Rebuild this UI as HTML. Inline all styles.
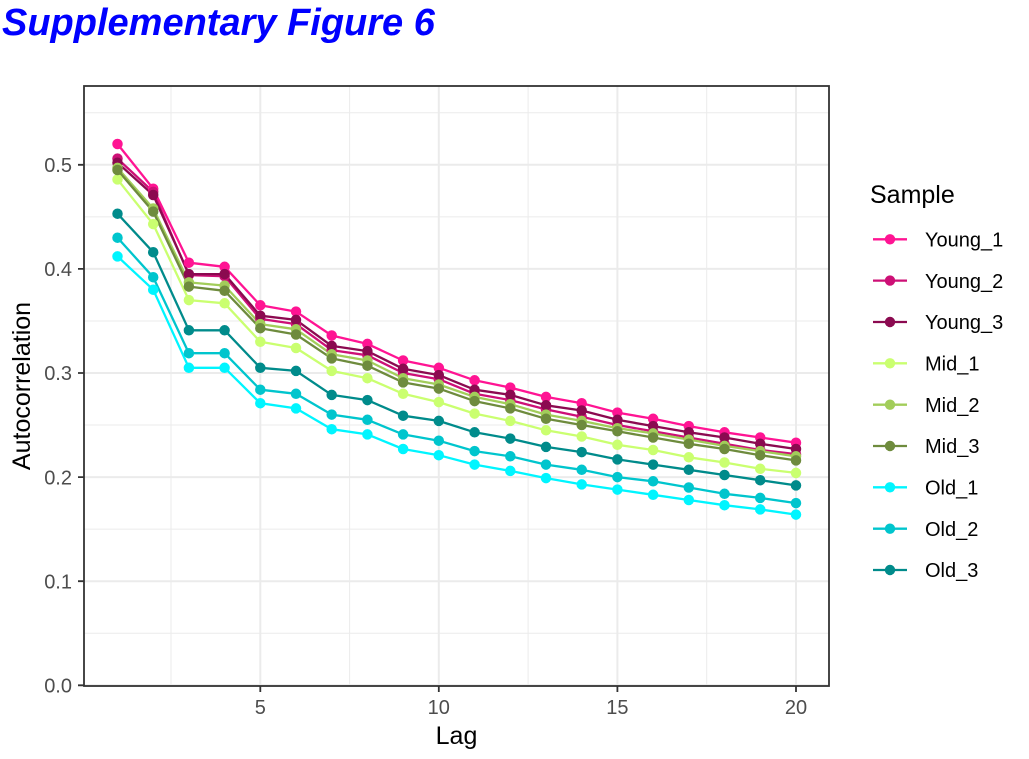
<!DOCTYPE html>
<html><head><meta charset="utf-8"><style>
html,body{margin:0;padding:0;background:#fff;}
svg{display:block;}
text{font-family:"Liberation Sans",Arial,sans-serif;}
</style></head><body>
<svg width="1029" height="759" viewBox="0 0 1029 759" xmlns="http://www.w3.org/2000/svg">
<rect width="1029" height="759" fill="#fff"/>
<text x="2" y="35" font-size="38" font-weight="bold" font-style="italic" fill="#0000FF">Supplementary Figure 6</text>
<!-- panel -->
<rect x="84" y="86" width="745" height="600" fill="#fff"/>
<g stroke="#EBEBEB" stroke-width="1" fill="none">
<path d="M84 633.25H829M84 529.15H829M84 425.05H829M84 320.95H829M84 216.85H829M84 112.75H829"/>
<path d="M171 86V686M349.6 86V686M528.1 86V686M706.7 86V686"/>
</g>
<g stroke="#EBEBEB" stroke-width="2" fill="none">
<path d="M84 685.3H829M84 581.2H829M84 477.1H829M84 373H829M84 268.9H829M84 164.8H829"/>
<path d="M260.3 86V686M438.8 86V686M617.4 86V686M796 86V686"/>
</g>
<g fill="none" stroke-width="2.3" stroke-linejoin="round">
<polyline stroke="#FF1493" points="117.5,144 153.2,188.7 188.9,262.7 224.6,266.8 260.3,305.3 296,311.6 331.7,335.5 367.4,343.9 403.1,360.5 438.8,367.8 474.6,380.3 510.3,387.6 546,396.9 581.7,403.2 617.4,412.6 653.1,418.8 688.8,426.1 724.5,432.3 760.2,437.5 796,442.7"/>
<polyline stroke="#CD1076" points="117.5,158.6 153.2,191.9 188.9,275.1 224.6,276.2 260.3,318.9 296,324.1 331.7,350.1 367.4,355.3 403.1,373 438.8,379.2 474.6,393.8 510.3,400.1 546,409.4 581.7,416.7 617.4,425 653.1,431.3 688.8,437.5 724.5,443.8 760.2,450 796,454.2"/>
<polyline stroke="#8B0A50" points="117.5,162.7 153.2,195 188.9,274.1 224.6,274.1 260.3,315.7 296,319.9 331.7,345.9 367.4,351.1 403.1,368.8 438.8,375.1 474.6,389.7 510.3,394.9 546,405.3 581.7,410.5 617.4,419.8 653.1,426.1 688.8,432.3 724.5,437.5 760.2,443.8 796,449"/>
<polyline stroke="#CAFF70" points="117.5,179.4 153.2,224.1 188.9,300.1 224.6,303.3 260.3,341.8 296,348 331.7,370.9 367.4,378.2 403.1,393.8 438.8,402.1 474.6,413.6 510.3,420.9 546,430.3 581.7,436.5 617.4,444.8 653.1,450 688.8,457.3 724.5,462.5 760.2,468.8 796,472.9"/>
<polyline stroke="#A2CD5A" points="117.5,167.9 153.2,208.5 188.9,282.4 224.6,285.6 260.3,324.1 296,329.3 331.7,354.3 367.4,360.5 403.1,378.2 438.8,384.5 474.6,396.9 510.3,404.2 546,414.6 581.7,420.9 617.4,428.2 653.1,433.4 688.8,439.6 724.5,445.9 760.2,451.1 796,456.3"/>
<polyline stroke="#6E8B3D" points="117.5,170 153.2,211.6 188.9,286.6 224.6,290.8 260.3,328.2 296,334.5 331.7,358.4 367.4,365.7 403.1,382.4 438.8,388.6 474.6,401.1 510.3,408.4 546,418.8 581.7,425 617.4,431.3 653.1,437.5 688.8,443.8 724.5,449 760.2,455.2 796,460.4"/>
<polyline stroke="#00F5FF" points="117.5,256.4 153.2,289.7 188.9,367.8 224.6,367.8 260.3,403.2 296,408.4 331.7,429.2 367.4,434.4 403.1,449 438.8,455.2 474.6,464.6 510.3,470.9 546,478.1 581.7,484.4 617.4,489.6 653.1,494.8 688.8,500 724.5,505.2 760.2,509.4 796,514.6"/>
<polyline stroke="#00C5CD" points="117.5,237.7 153.2,277.2 188.9,353.2 224.6,353.2 260.3,389.7 296,393.8 331.7,414.6 367.4,419.8 403.1,434.4 438.8,440.7 474.6,451.1 510.3,456.3 546,464.6 581.7,469.8 617.4,477.1 653.1,481.3 688.8,487.5 724.5,493.8 760.2,497.9 796,503.1"/>
<polyline stroke="#008B8B" points="117.5,213.7 153.2,252.2 188.9,330.3 224.6,330.3 260.3,367.8 296,370.9 331.7,394.9 367.4,400.1 403.1,415.7 438.8,420.9 474.6,432.3 510.3,438.6 546,446.9 581.7,452.1 617.4,459.4 653.1,464.6 688.8,469.8 724.5,475 760.2,480.2 796,485.4"/>
</g>
<g fill="none" stroke-width="10.5" stroke-linecap="round">
<path stroke="#FF1493" d="M117.5 144h0M153.2 188.7h0M188.9 262.7h0M224.6 266.8h0M260.3 305.3h0M296 311.6h0M331.7 335.5h0M367.4 343.9h0M403.1 360.5h0M438.8 367.8h0M474.6 380.3h0M510.3 387.6h0M546 396.9h0M581.7 403.2h0M617.4 412.6h0M653.1 418.8h0M688.8 426.1h0M724.5 432.3h0M760.2 437.5h0M796 442.7h0"/>
<path stroke="#CD1076" d="M117.5 158.6h0M153.2 191.9h0M188.9 275.1h0M224.6 276.2h0M260.3 318.9h0M296 324.1h0M331.7 350.1h0M367.4 355.3h0M403.1 373h0M438.8 379.2h0M474.6 393.8h0M510.3 400.1h0M546 409.4h0M581.7 416.7h0M617.4 425h0M653.1 431.3h0M688.8 437.5h0M724.5 443.8h0M760.2 450h0M796 454.2h0"/>
<path stroke="#8B0A50" d="M117.5 162.7h0M153.2 195h0M188.9 274.1h0M224.6 274.1h0M260.3 315.7h0M296 319.9h0M331.7 345.9h0M367.4 351.1h0M403.1 368.8h0M438.8 375.1h0M474.6 389.7h0M510.3 394.9h0M546 405.3h0M581.7 410.5h0M617.4 419.8h0M653.1 426.1h0M688.8 432.3h0M724.5 437.5h0M760.2 443.8h0M796 449h0"/>
<path stroke="#CAFF70" d="M117.5 179.4h0M153.2 224.1h0M188.9 300.1h0M224.6 303.3h0M260.3 341.8h0M296 348h0M331.7 370.9h0M367.4 378.2h0M403.1 393.8h0M438.8 402.1h0M474.6 413.6h0M510.3 420.9h0M546 430.3h0M581.7 436.5h0M617.4 444.8h0M653.1 450h0M688.8 457.3h0M724.5 462.5h0M760.2 468.8h0M796 472.9h0"/>
<path stroke="#A2CD5A" d="M117.5 167.9h0M153.2 208.5h0M188.9 282.4h0M224.6 285.6h0M260.3 324.1h0M296 329.3h0M331.7 354.3h0M367.4 360.5h0M403.1 378.2h0M438.8 384.5h0M474.6 396.9h0M510.3 404.2h0M546 414.6h0M581.7 420.9h0M617.4 428.2h0M653.1 433.4h0M688.8 439.6h0M724.5 445.9h0M760.2 451.1h0M796 456.3h0"/>
<path stroke="#6E8B3D" d="M117.5 170h0M153.2 211.6h0M188.9 286.6h0M224.6 290.8h0M260.3 328.2h0M296 334.5h0M331.7 358.4h0M367.4 365.7h0M403.1 382.4h0M438.8 388.6h0M474.6 401.1h0M510.3 408.4h0M546 418.8h0M581.7 425h0M617.4 431.3h0M653.1 437.5h0M688.8 443.8h0M724.5 449h0M760.2 455.2h0M796 460.4h0"/>
<path stroke="#00F5FF" d="M117.5 256.4h0M153.2 289.7h0M188.9 367.8h0M224.6 367.8h0M260.3 403.2h0M296 408.4h0M331.7 429.2h0M367.4 434.4h0M403.1 449h0M438.8 455.2h0M474.6 464.6h0M510.3 470.9h0M546 478.1h0M581.7 484.4h0M617.4 489.6h0M653.1 494.8h0M688.8 500h0M724.5 505.2h0M760.2 509.4h0M796 514.6h0"/>
<path stroke="#00C5CD" d="M117.5 237.7h0M153.2 277.2h0M188.9 353.2h0M224.6 353.2h0M260.3 389.7h0M296 393.8h0M331.7 414.6h0M367.4 419.8h0M403.1 434.4h0M438.8 440.7h0M474.6 451.1h0M510.3 456.3h0M546 464.6h0M581.7 469.8h0M617.4 477.1h0M653.1 481.3h0M688.8 487.5h0M724.5 493.8h0M760.2 497.9h0M796 503.1h0"/>
<path stroke="#008B8B" d="M117.5 213.7h0M153.2 252.2h0M188.9 330.3h0M224.6 330.3h0M260.3 367.8h0M296 370.9h0M331.7 394.9h0M367.4 400.1h0M403.1 415.7h0M438.8 420.9h0M474.6 432.3h0M510.3 438.6h0M546 446.9h0M581.7 452.1h0M617.4 459.4h0M653.1 464.6h0M688.8 469.8h0M724.5 475h0M760.2 480.2h0M796 485.4h0"/>
</g>
<rect x="84" y="86" width="745" height="600" fill="none" stroke="#333333" stroke-width="1.8"/>
<!-- ticks -->
<g stroke="#333333" stroke-width="1.8">
<path d="M78 685.3H84M78 581.2H84M78 477.1H84M78 373H84M78 268.9H84M78 164.8H84"/>
<path d="M260.3 686V692M438.8 686V692M617.4 686V692M796 686V692"/>
</g>
<g font-size="20" fill="#4D4D4D" text-anchor="end">
<text x="72" y="692.5">0.0</text>
<text x="72" y="588.4">0.1</text>
<text x="72" y="484.3">0.2</text>
<text x="72" y="380.2">0.3</text>
<text x="72" y="276.1">0.4</text>
<text x="72" y="172">0.5</text>
</g>
<g font-size="20" fill="#4D4D4D" text-anchor="middle">
<text x="260.3" y="714">5</text>
<text x="438.8" y="714">10</text>
<text x="617.4" y="714">15</text>
<text x="796" y="714">20</text>
</g>
<text x="456.5" y="744" font-size="25" text-anchor="middle" fill="#000">Lag</text>
<text transform="translate(30,386) rotate(-90)" font-size="25" text-anchor="middle" fill="#000">Autocorrelation</text>
<!-- legend -->
<text x="870" y="203" font-size="25" fill="#000">Sample</text>
<g stroke-width="2.3">
<path stroke="#FF1493" d="M873 239.3H907"/>
<path stroke="#CD1076" d="M873 280.6H907"/>
<path stroke="#8B0A50" d="M873 322H907"/>
<path stroke="#CAFF70" d="M873 363.3H907"/>
<path stroke="#A2CD5A" d="M873 404.7H907"/>
<path stroke="#6E8B3D" d="M873 446H907"/>
<path stroke="#00F5FF" d="M873 487.3H907"/>
<path stroke="#00C5CD" d="M873 528.7H907"/>
<path stroke="#008B8B" d="M873 570H907"/>
</g>
<g>
<circle cx="890" cy="239.3" r="5.2" fill="#FF1493"/>
<circle cx="890" cy="280.6" r="5.2" fill="#CD1076"/>
<circle cx="890" cy="322" r="5.2" fill="#8B0A50"/>
<circle cx="890" cy="363.3" r="5.2" fill="#CAFF70"/>
<circle cx="890" cy="404.7" r="5.2" fill="#A2CD5A"/>
<circle cx="890" cy="446" r="5.2" fill="#6E8B3D"/>
<circle cx="890" cy="487.3" r="5.2" fill="#00F5FF"/>
<circle cx="890" cy="528.7" r="5.2" fill="#00C5CD"/>
<circle cx="890" cy="570" r="5.2" fill="#008B8B"/>
</g>
<g font-size="20" fill="#000">
<text x="925" y="246.5">Young_1</text>
<text x="925" y="287.8">Young_2</text>
<text x="925" y="329.2">Young_3</text>
<text x="925" y="370.5">Mid_1</text>
<text x="925" y="411.9">Mid_2</text>
<text x="925" y="453.2">Mid_3</text>
<text x="925" y="494.5">Old_1</text>
<text x="925" y="535.9">Old_2</text>
<text x="925" y="577.2">Old_3</text>
</g>
</svg>
</body></html>
